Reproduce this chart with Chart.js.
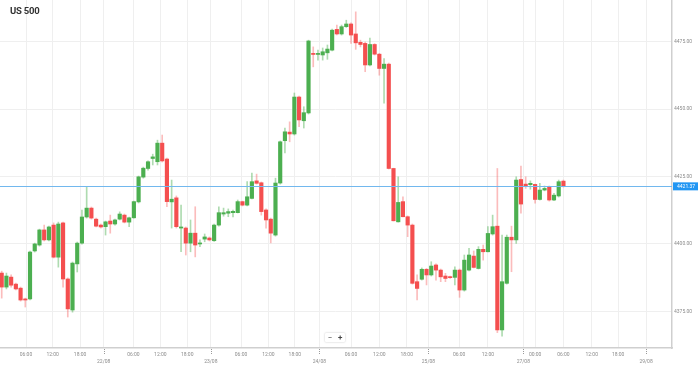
<!DOCTYPE html>
<html>
<head>
<meta charset="utf-8">
<script src="https://cdn.jsdelivr.net/npm/chart.js@4/dist/chart.umd.min.js"></script>
<style>
  html, body { margin: 0; padding: 0; background: #fff; }
  #wrap { position: relative; width: 699px; height: 366px; font-family: Roboto, "Open Sans", sans-serif; }
  #title { position: absolute; left: 10px; top: 5px; font-size: 9.5px; font-weight: bold; color: #333; letter-spacing: -0.2px; }
  #zoom { position: absolute; left: 325px; top: 333px; width: 20px; height: 9px; background: #fff;
          box-shadow: 0 0 2px rgba(0,0,0,0.25); border-radius: 1px; font-size: 8px; color: #444;
          display: flex; justify-content: space-around; align-items: center; line-height: 9px; }
</style>
</head>
<body>
<div id="wrap">
  <canvas id="c" width="699" height="366"></canvas>
  <div id="title">US 500</div>
  <div id="zoom"><span>&minus;</span><span style="font-weight:bold">+</span></div>
</div>
<script>
// Hourly candles (index 0..119)
const opens = [
  4389.2, 4384.0, 4387.7, 4385.1, 4383.6, 4379.6, 4379.6, 4397.4, 4399.6, 4405.2,
  4401.5, 4407.0, 4395.1, 4407.8, 4387.0, 4375.5, 4392.6, 4400.3, 4410.0, 4413.3,
  4409.2, 4407.0, 4406.4, 4408.5, 4407.4, 4409.2, 4410.7, 4408.1, 4409.7, 4415.6,
  4424.8, 4428.0, 4431.7, 4430.5, 4437.4, 4431.5, 4415.6, 4417.1, 4405.9, 4405.9,
  4400.3, 4404.0, 4400.0, 4401.8, 4402.2, 4401.2, 4407.0, 4411.1, 4411.4, 4411.6,
  4411.6, 4415.7, 4414.4, 4416.9, 4423.4, 4422.7, 4412.6, 4409.2, 4403.3, 4422.6,
  4438.3, 4441.5, 4440.8, 4454.5, 4445.7, 4448.6, 4470.7, 4470.3, 4470.1, 4470.9,
  4471.9, 4479.6, 4477.9, 4480.6, 4481.6, 4477.9, 4474.8, 4474.4, 4466.4, 4474.0,
  4470.4, 4465.1, 4466.7, 4428.0, 4408.2, 4415.7, 4410.1, 4407.0, 4386.0, 4386.9,
  4390.6, 4388.5, 4392.2, 4390.3, 4388.1, 4387.8, 4387.6, 4390.3, 4382.9, 4390.3,
  4395.5, 4390.9, 4398.0, 4397.1, 4403.7, 4406.6, 4368.1, 4385.4, 4402.5, 4401.5,
  4423.9, 4422.2, 4422.0, 4422.1, 4416.5, 4420.0, 4421.0, 4416.3, 4417.8, 4423.3
];
const highs = [
  4389.9, 4389.2, 4388.5, 4385.5, 4384.0, 4379.9, 4397.4, 4400.3, 4405.5, 4407.0,
  4406.6, 4407.8, 4408.1, 4408.1, 4387.4, 4393.3, 4400.7, 4412.6, 4421.1, 4413.7,
  4409.6, 4407.4, 4408.5, 4410.7, 4409.2, 4411.9, 4411.1, 4410.0, 4415.9, 4425.2,
  4428.5, 4430.8, 4433.3, 4438.5, 4440.4, 4431.9, 4423.7, 4417.8, 4414.4, 4406.3,
  4408.9, 4413.8, 4401.5, 4403.7, 4402.6, 4407.4, 4413.8, 4413.3, 4413.0, 4412.6,
  4416.3, 4415.9, 4423.1, 4426.3, 4425.9, 4423.0, 4413.0, 4409.6, 4424.4, 4438.2,
  4443.0, 4445.3, 4456.0, 4454.9, 4450.9, 4475.6, 4473.1, 4471.9, 4472.7, 4473.8,
  4479.7, 4481.2, 4481.2, 4483.0, 4482.0, 4486.1, 4475.6, 4474.9, 4476.4, 4474.3,
  4470.7, 4468.8, 4467.1, 4428.1, 4424.9, 4417.5, 4410.4, 4407.4, 4388.5, 4391.1,
  4390.9, 4393.4, 4392.6, 4390.7, 4389.1, 4388.1, 4391.5, 4390.7, 4395.9, 4398.4,
  4397.4, 4399.0, 4399.6, 4406.4, 4410.7, 4428.0, 4403.3, 4403.3, 4406.6, 4424.9,
  4428.9, 4424.9, 4423.4, 4422.2, 4422.5, 4421.5, 4421.5, 4418.8, 4423.7, 4423.7
];
const lows = [
  4379.9, 4383.3, 4384.0, 4382.9, 4378.8, 4376.6, 4379.2, 4397.0, 4399.2, 4401.1,
  4401.1, 4394.8, 4391.4, 4384.0, 4372.9, 4374.7, 4389.6, 4399.9, 4409.6, 4409.2,
  4406.3, 4405.9, 4403.3, 4404.0, 4407.0, 4408.9, 4407.8, 4406.4, 4409.6, 4415.2,
  4424.4, 4427.4, 4429.3, 4429.3, 4430.4, 4413.8, 4405.9, 4405.9, 4397.1, 4395.9,
  4397.1, 4395.2, 4399.0, 4400.8, 4401.1, 4400.9, 4406.6, 4410.3, 4410.1, 4410.0,
  4411.5, 4414.1, 4414.1, 4416.7, 4422.2, 4410.7, 4405.9, 4400.4, 4402.9, 4422.2,
  4433.8, 4437.9, 4440.4, 4443.5, 4443.0, 4448.2, 4465.7, 4468.2, 4468.2, 4468.5,
  4471.6, 4477.5, 4477.5, 4480.3, 4474.4, 4472.2, 4473.1, 4463.9, 4466.0, 4470.1,
  4462.6, 4452.2, 4427.8, 4408.5, 4408.1, 4410.0, 4402.7, 4385.1, 4379.2, 4386.6,
  4384.8, 4388.1, 4386.6, 4386.0, 4386.0, 4387.2, 4384.8, 4380.2, 4382.5, 4390.0,
  4391.1, 4390.7, 4394.0, 4397.0, 4403.3, 4367.1, 4365.8, 4385.1, 4389.7, 4400.2,
  4411.4, 4420.6, 4420.3, 4415.1, 4416.3, 4419.7, 4415.9, 4416.1, 4417.4, 4421.1
];
const closes = [
  4384.0, 4388.1, 4384.7, 4383.3, 4379.2, 4379.2, 4397.0, 4400.0, 4405.2, 4401.5,
  4406.3, 4395.1, 4407.4, 4387.0, 4375.9, 4392.9, 4400.3, 4410.0, 4413.3, 4409.6,
  4406.6, 4406.3, 4408.2, 4407.4, 4408.9, 4411.1, 4408.1, 4409.7, 4415.7, 4424.9,
  4428.1, 4430.5, 4432.3, 4437.4, 4430.8, 4415.7, 4416.6, 4406.4, 4406.3, 4400.3,
  4404.0, 4399.6, 4400.2, 4402.6, 4401.5, 4407.0, 4411.6, 4411.6, 4412.0, 4412.1,
  4415.7, 4414.4, 4417.5, 4423.1, 4422.5, 4412.0, 4408.9, 4404.0, 4422.6, 4437.9,
  4441.6, 4440.8, 4454.5, 4446.0, 4448.7, 4475.3, 4470.3, 4470.7, 4471.3, 4472.3,
  4479.3, 4477.9, 4480.6, 4481.6, 4477.5, 4474.6, 4474.0, 4466.4, 4474.0, 4470.4,
  4465.1, 4466.7, 4428.0, 4408.6, 4415.4, 4410.1, 4407.0, 4385.4, 4383.5, 4390.6,
  4388.5, 4391.8, 4390.3, 4387.8, 4387.2, 4387.5, 4390.3, 4382.9, 4394.0, 4395.9,
  4391.3, 4398.0, 4397.1, 4403.9, 4406.4, 4368.1, 4386.0, 4402.5, 4401.5, 4423.7,
  4414.8, 4421.5, 4422.5, 4416.5, 4420.0, 4420.6, 4416.3, 4418.1, 4423.1, 4421.37
];

// X-axis ticks (position in candle-index units), time row and date row
const tickPositions = [5.15, 10.8, 16.6, 21.6, 27.9, 33.6, 39.3, 44.3, 50.7, 56.5, 62.1, 67.3,
                       74.0, 80.0, 85.8, 90.4, 96.9, 103.0, 110.5, 113.0, 119.0, 125.0, 130.6, 136.5];
const tickTimes = ['06:00','12:00','18:00','','06:00','12:00','18:00','','06:00','12:00','18:00','',
                   '06:00','12:00','18:00','','06:00','12:00','','00:00','06:00','12:00','18:00',''];
const tickDates = ['','','','22/08','','','','23/08','','','','24/08',
                   '','','','25/08','','','27/08','','','','','29/08'];

// Y-axis ticks and last price
const yTicks = [4375, 4400, 4425, 4450, 4475];
const lastPrice = 4421.37;

const X_MIN = -0.36, X_MAX = 142.0, Y_MIN = 4361.4, Y_MAX = 4490.5;

const UP = '#4caf50', DOWN = '#f44f4f';
const UP_WICK = 'rgba(76,175,80,0.45)', DOWN_WICK = 'rgba(244,79,79,0.38)';

const isUp = closes.map((c, i) => c >= opens[i]);
const bodies = opens.map((o, i) => ({ x: i, y: [o, closes[i]] }));
const wicks = lows.map((l, i) => ({ x: i, y: [l, highs[i]] }));

const overlay = {
  id: 'overlay',
  afterDatasetsDraw(chart) {
    const { ctx, chartArea, scales } = chart;
    const y = Math.round(scales.y.getPixelForValue(lastPrice)) + 0.5;
    ctx.save();
    ctx.strokeStyle = '#72b8ee';
    ctx.lineWidth = 1;
    ctx.beginPath();
    ctx.moveTo(chartArea.left, y);
    ctx.lineTo(chartArea.right, y);
    ctx.stroke();
    ctx.restore();
  },
  afterDraw(chart) {
    const { ctx, chartArea, scales } = chart;
    ctx.save();
    // dotted tick marks for day boundaries
    ctx.strokeStyle = '#9a9a9a';
    ctx.lineWidth = 1;
    ctx.setLineDash([1, 1]);
    tickPositions.forEach((p, i) => {
      if (!tickDates[i]) return;
      const x = Math.round(scales.x.getPixelForValue(p)) + 0.5;
      ctx.beginPath();
      ctx.moveTo(x, chartArea.bottom + 1);
      ctx.lineTo(x, chartArea.bottom + 6);
      ctx.stroke();
    });
    ctx.setLineDash([]);
    // last price badge
    const y = scales.y.getPixelForValue(lastPrice);
    ctx.fillStyle = '#2196f3';
    ctx.fillRect(chartArea.right + 1, y - 4, 25, 8);
    ctx.fillStyle = '#fff';
    ctx.font = '5px Roboto';
    ctx.textBaseline = 'middle';
    ctx.textAlign = 'left';
    ctx.fillText(lastPrice.toFixed(2), chartArea.right + 5, y + 0.3);
    ctx.restore();
  }
};

new Chart(document.getElementById('c'), {
  type: 'bar',
  data: {
    datasets: [
      {
        data: bodies,
        backgroundColor: isUp.map(u => u ? UP : DOWN),
        barThickness: 3.5,
        minBarLength: 1,
        grouped: false,
        order: 0
      },
      {
        data: wicks,
        backgroundColor: isUp.map(u => u ? UP_WICK : DOWN_WICK),
        barThickness: 1,
        minBarLength: 1,
        grouped: false,
        order: 1
      }
    ]
  },
  options: {
    responsive: false,
    animation: false,
    layout: { padding: 0 },
    plugins: { legend: { display: false }, tooltip: { enabled: false } },
    scales: {
      x: {
        type: 'linear',
        min: X_MIN,
        max: X_MAX,
        offset: false,
        grid: { offset: false, color: '#efefef', lineWidth: 1, drawTicks: false },
        border: { color: '#cfcfcf', width: 1.5 },
        afterBuildTicks(scale) { scale.ticks = tickPositions.map(v => ({ value: v })); },
        afterFit(scale) { scale.height = 18; scale.paddingLeft = 0; scale.paddingRight = 0; },
        ticks: {
          autoSkip: false,
          maxRotation: 0,
          padding: 3,
          color: '#8c8c8c',
          font: { family: 'Roboto', size: 5, lineHeight: 1.45 },
          callback(value, index) { return [tickTimes[index], tickDates[index]]; }
        }
      },
      y: {
        position: 'right',
        min: Y_MIN,
        max: Y_MAX,
        grid: { color: '#efefef', lineWidth: 1, drawTicks: false },
        border: { color: '#cfcfcf', width: 1.5 },
        afterBuildTicks(scale) { scale.ticks = yTicks.map(v => ({ value: v })); },
        afterFit(scale) { scale.width = 27; scale.paddingTop = 0; scale.paddingBottom = 0; },
        ticks: {
          padding: 2,
          color: '#8c8c8c',
          font: { family: 'Roboto', size: 5 },
          callback(value) { return Number(value).toFixed(2); }
        }
      }
    }
  },
  plugins: [overlay]
});
</script>
</body>
</html>
